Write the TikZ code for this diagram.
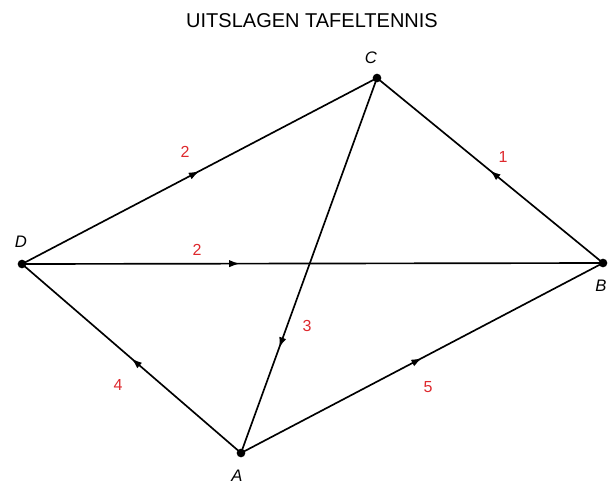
\documentclass[tikz,border=0pt]{standalone}
\usepackage{fontspec}
\setmainfont{Liberation Sans}
\usetikzlibrary{decorations.markings,arrows.meta}
\definecolor{lblred}{RGB}{222,40,45}
\begin{document}
\begin{tikzpicture}[x=0.75pt,y=-0.75pt,
  edge/.style={line width=1.25pt,black},
  midarrow/.style={postaction={decorate},decoration={markings,mark=at position #1 with {\arrow{Latex[length=8pt,width=5.5pt]}}}},
  vtx/.style={circle,fill=black,inner sep=0pt,minimum size=6.5pt},
  vlabel/.style={font=\fontsize{12.5}{15}\selectfont\itshape},
  elabel/.style={text=lblred,font=\fontsize{12}{14}\selectfont}]
\useasboundingbox (0,0) rectangle (616,486);
\node[font=\fontsize{15}{18}\selectfont] (title) at (312,21) {UITSLAGEN TAFELTENNIS};
\node[vtx] (C) at (377,78) {};
\node[vtx] (B) at (603,263) {};
\node[vtx] (D) at (22,264) {};
\node[vtx] (A) at (241,453) {};
\node[vlabel] (lC) at (371,58) {C};
\node[vlabel] (lB) at (601,286) {B};
\node[vlabel] (lD) at (21,242) {D};
\node[vlabel] (lA) at (237,476) {A};
\draw[edge,midarrow=0.5] (D.center) -- (C.center);
\draw[edge,midarrow=0.5] (B.center) -- (C.center);
\draw[edge,midarrow=0.375] (D.center) -- (B.center);
\draw[edge,midarrow=0.72] (C.center) -- (A.center);
\draw[edge,midarrow=0.5] (A.center) -- (D.center);
\draw[edge,midarrow=0.5] (A.center) -- (B.center);
\node[elabel] (e1) at (185,152) {2};
\node[elabel] (e2) at (503,157) {1};
\node[elabel] (e3) at (197,250) {2};
\node[elabel] (e4) at (307,326) {3};
\node[elabel] (e5) at (118,385) {4};
\node[elabel] (e6) at (428,387) {5};
\end{tikzpicture}
\end{document}
